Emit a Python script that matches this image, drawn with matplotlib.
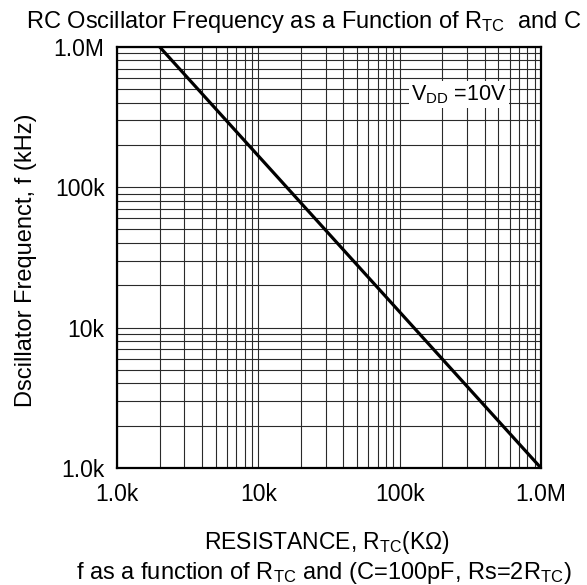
import numpy as np
import matplotlib
matplotlib.use("Agg")
import matplotlib.pyplot as plt
from matplotlib.ticker import LogLocator, NullFormatter

plt.rcParams['font.family'] = ['Liberation Sans', 'DejaVu Sans']
plt.rcParams['mathtext.fontset'] = 'custom'
plt.rcParams['mathtext.rm'] = 'Liberation Sans'
plt.rcParams['mathtext.it'] = 'Liberation Sans'

# data (R in ohm, f in kHz)
resistance = [2.0e3, 1.0e6]
frequency = [1.0e6, 1.0e3]

tick_values = [1e3, 1e4, 1e5, 1e6]
tick_labels = ["1.0k", "10k", "100k", "1.0M"]

fig = plt.figure(figsize=(5.87, 5.85), dpi=100)
ax = fig.add_axes([0.1993, 0.2, 0.7223, 0.72])

ax.plot(resistance, frequency, color='black', lw=2.3, solid_capstyle='butt', zorder=3)

ax.set_xscale('log')
ax.set_yscale('log')
ax.set_xlim(1e3, 1e6)
ax.set_ylim(1e3, 1e6)

for axis in (ax.xaxis, ax.yaxis):
    axis.set_minor_locator(LogLocator(base=10, subs=np.arange(2, 10)))
    axis.set_minor_formatter(NullFormatter())
ax.set_xticks(tick_values, tick_labels)
ax.set_yticks(tick_values, tick_labels)

ax.grid(which='both', color='#2a2a2a', lw=0.8)
ax.tick_params(which='both', length=0)
ax.tick_params(axis='x', pad=11, labelsize=16.5)
ax.tick_params(axis='y', pad=9, labelsize=16.5)
for s in ax.spines.values():
    s.set_linewidth(1.6)

ax.text(0.807, 0.886, r"V$_{\rm DD}$ =10V", transform=ax.transAxes,
        ha='center', va='center', fontsize=15.5,
        bbox=dict(facecolor='white', edgecolor='none', pad=1.5), zorder=4)

fig.text(304 / 587, 1 - 22 / 585, r"RC Oscillator Frequency as a Function of R$_{\rm TC}$  and C",
         ha='center', va='center', fontsize=17)
fig.text(26 / 587, 1 - 260 / 585, "Dscillator Frequenct, f (kHz)", rotation=90,
         ha='center', va='center', fontsize=17)
fig.text(327 / 587, 1 - 543 / 585, r"RESISTANCE, R$_{\rm TC}$(KΩ)",
         ha='center', va='center', fontsize=16.5)
fig.text(324 / 587, 1 - 573 / 585, r"f as a function of R$_{\rm TC}$ and (C=100pF, Rs=2R$_{\rm TC}$)",
         ha='center', va='center', fontsize=17)

fig.savefig("out.png", dpi=100)
